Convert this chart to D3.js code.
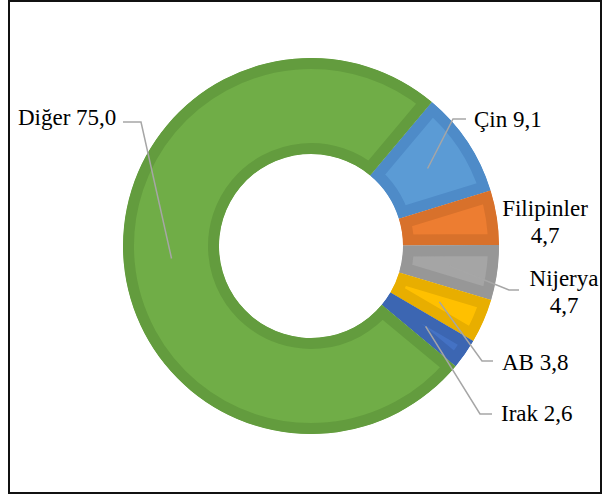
<!DOCTYPE html>
<html>
<head>
<meta charset="utf-8">
<script src="https://cdn.jsdelivr.net/npm/d3@7"></script>
<style>
  body { margin: 0; background: #fff; }
  svg { display: block; }
  .lbl { font-family: 'Liberation Serif', 'Times New Roman', Times, 'DejaVu Serif', serif; font-size: 23px; }
</style>
</head>
<body>
<svg width="607" height="497"></svg>
<script>
// values (percent)
const categories = ['Çin', 'Filipinler', 'Nijerya', 'AB', 'Irak', 'Diğer']
const values = [9.1, 4.7, 4.7, 3.8, 2.6, 75.0]
const valueLabels = ['9,1', '4,7', '4,7', '3,8', '2,6', '75,0']
const lightColors = ['#5b9bd5', '#ed7d31', '#a5a5a5', '#ffc000', '#4472c4', '#70ad47']
const darkColors = ['#4e8bc8', '#d8712b', '#979797', '#e8ae00', '#3c66b2', '#639c3e']

let svg = d3.select('svg')

// frame
svg.append('rect')
    .attr('x', 9).attr('y', 1)
    .attr('width', 592).attr('height', 492)
    .attr('fill', 'none')
    .attr('stroke', '#111')
    .attr('stroke-width', 2)

let cx = 311, cy = 246
let outerR = 188, innerR = 92
let start = 40 * Math.PI / 180

let pie = d3.pie().sort(null)
    .startAngle(start)
    .endAngle(start + 2 * Math.PI)

let arc = d3.arc().innerRadius(innerR).outerRadius(outerR)

let slices = pie(values).map(function(d, i) {
  d.name = categories[i]
  d.label = valueLabels[i]
  d.i = i
  return d
})

let g = svg.append('g').attr('transform', 'translate(' + cx + ',' + cy + ')')

let defs = svg.append('defs')
defs.selectAll('clipPath')
  .data(slices)
  .enter().append('clipPath')
    .attr('id', function(d) { return 'clip' + d.i })
  .append('path')
    .attr('d', arc)

g.selectAll('path.slice')
  .data(slices)
  .enter().append('path')
    .attr('class', 'slice')
    .attr('d', arc)
    .attr('fill', function(d) { return lightColors[d.i] })
    .attr('stroke', function(d) { return darkColors[d.i] })
    .attr('stroke-width', 22)
    .attr('clip-path', function(d) { return 'url(#clip' + d.i + ')' })

// label layout: text position, leader elbow (null = no leader)
const labelLayout = {
  'Çin':        { x: 474, y: 127, anchor: 'start', lines: 1, elbow: [[466, 119], [453, 119]] },
  'Filipinler': { x: 545, y: 216, anchor: 'middle', lines: 2, elbow: null },
  'Nijerya':    { x: 564, y: 286, anchor: 'middle', lines: 2, elbow: [[519, 290], [509, 290]] },
  'AB':         { x: 502, y: 370, anchor: 'start', lines: 1, elbow: [[493, 361], [482, 361]] },
  'Irak':       { x: 501, y: 421, anchor: 'start', lines: 1, elbow: [[492, 414], [480, 414]] },
  'Diğer':      { x: 18, y: 125, anchor: 'start', lines: 1, elbow: [[123, 122], [141, 122]] }
}

let leaders = svg.append('g')
slices.forEach(function(d) {
  let lay = labelLayout[d.name]
  if (!lay.elbow) return
  let c = arc.centroid(d)
  let pts = lay.elbow.concat([[c[0] + cx, c[1] + cy]])
  leaders.append('path')
      .attr('d', d3.line()(pts))
      .attr('fill', 'none')
      .attr('stroke', '#a6a6a6')
      .attr('stroke-width', 1.5)
})

let labels = svg.append('g')

slices.forEach(function(d) {
  let lay = labelLayout[d.name]
  let t = labels.append('text')
      .attr('class', 'lbl')
      .attr('fill', '#000')
      .attr('text-anchor', lay.anchor)
  if (lay.lines === 2) {
    t.append('tspan').attr('x', lay.x).attr('y', lay.y).text(d.name)
    t.append('tspan').attr('x', lay.x).attr('y', lay.y + 27).text(d.label)
  } else {
    t.attr('x', lay.x).attr('y', lay.y).text(d.name + ' ' + d.label)
  }
})
</script>
</body>
</html>
